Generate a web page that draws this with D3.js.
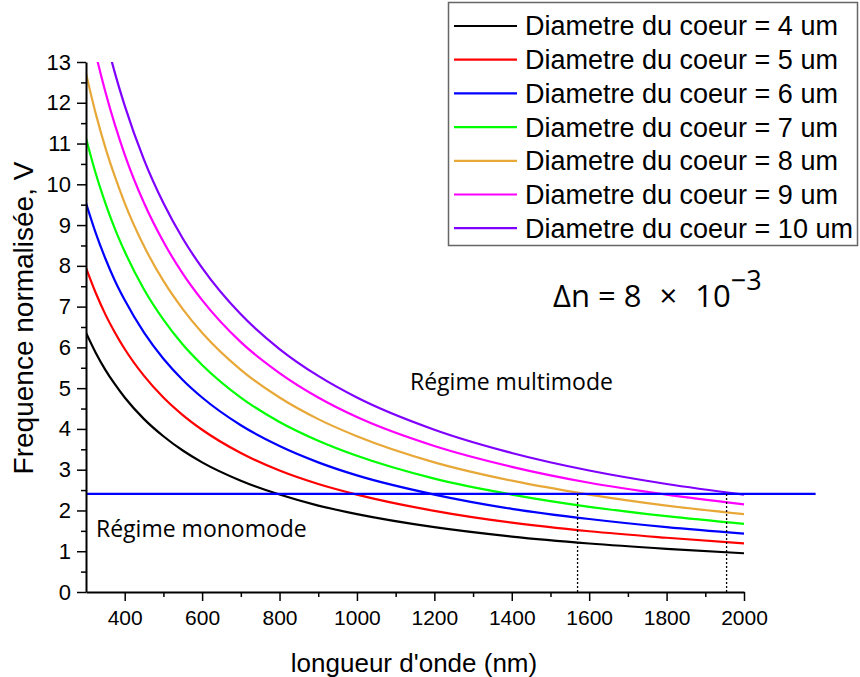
<!DOCTYPE html>
<html>
<head>
<meta charset="utf-8">
<script src="https://cdn.jsdelivr.net/npm/d3@7"></script>
<style>
  body { margin: 0; background: #fff; }
  svg { display: block; }
</style>
</head>
<body>
<svg id="chart"></svg>
<script>
// wavelength samples (nm)
const wavelengths = [300, 325, 350, 375, 400, 450, 500, 550, 600, 700, 800, 900, 1000, 1200, 1400, 1600, 1800, 2000];

// V (core diameter in um)
const diameters = [4, 5, 6, 7, 8, 9, 10];
const v4 = [6.36, 5.87, 5.45, 5.09, 4.77, 4.24, 3.82, 3.47, 3.18, 2.73, 2.39, 2.12, 1.91, 1.59, 1.36, 1.19, 1.06, 0.95];
const v5 = [7.95, 7.34, 6.81, 6.36, 5.96, 5.30, 4.77, 4.34, 3.98, 3.41, 2.98, 2.65, 2.39, 1.99, 1.70, 1.49, 1.33, 1.19];
const v6 = [9.54, 8.81, 8.18, 7.63, 7.16, 6.36, 5.72, 5.20, 4.77, 4.09, 3.58, 3.18, 2.86, 2.39, 2.04, 1.79, 1.59, 1.43];
const v7 = [11.13, 10.27, 9.54, 8.90, 8.35, 7.42, 6.68, 6.07, 5.57, 4.77, 4.17, 3.71, 3.34, 2.78, 2.39, 2.09, 1.86, 1.67];
const v8 = [12.72, 11.74, 10.90, 10.18, 9.54, 8.48, 7.63, 6.94, 6.36, 5.45, 4.77, 4.24, 3.82, 3.18, 2.73, 2.39, 2.12, 1.91];
const v9 = [14.31, 13.21, 12.27, 11.45, 10.73, 9.54, 8.59, 7.81, 7.16, 6.13, 5.37, 4.77, 4.29, 3.58, 3.07, 2.68, 2.39, 2.15];
const v10 = [15.90, 14.68, 13.63, 12.72, 11.93, 10.60, 9.54, 8.67, 7.95, 6.81, 5.96, 5.30, 4.77, 3.98, 3.41, 2.98, 2.65, 2.39];
const seriesValues = [v4, v5, v6, v7, v8, v9, v10];
const colors = ["#000000", "#ff0000", "#0000ff", "#00ff00", "#e8a838", "#ff00ff", "#8000ff"];

// single-mode cutoff V = 2.405, drawn from 300 to ~2185 nm
const cutoffV = 2.405;
const cutoffRange = [300, 2185];
// dotted markers (nm)
const markers = [1570, 1955];

const yTicks = d3.range(0, 14, 1);
const xTicks = [400, 600, 800, 1000, 1200, 1400, 1600, 1800, 2000];

const width = 860;
const height = 677;
const font = "'Liberation Sans', Arial, sans-serif";
const textFont = "'Open Sans', 'Noto Sans', sans-serif";

const svg = d3.select("#chart").attr("width", width).attr("height", height);
svg.append("rect").attr("width", width).attr("height", height).attr("fill", "#fff");

const xScale = d3.scaleLinear().domain([300, 2000]).range([86, 744]);
const yScale = d3.scaleLinear().domain([0, 13]).range([592, 62]);

// clip curves at V = 13
svg.append("clipPath").attr("id", "plot-clip")
  .append("rect")
  .attr("x", xScale(300))
  .attr("y", yScale(13))
  .attr("width", width - xScale(300))
  .attr("height", yScale(0) - yScale(13));

const line = d3.line()
  .x((d) => xScale(d[0]))
  .y((d) => yScale(d[1]))
  .curve(d3.curveMonotoneX);

const curves = svg.append("g").attr("clip-path", "url(#plot-clip)");
seriesValues.forEach(function (vals, i) {
  curves.append("path")
    .datum(wavelengths.map((w, j) => [w, vals[j]]))
    .attr("d", line)
    .attr("fill", "none")
    .attr("stroke", colors[i])
    .attr("stroke-width", 2.2);
});

// cutoff line
svg.append("path")
  .datum(cutoffRange.map((w) => [w, cutoffV]))
  .attr("d", d3.line().x((d) => xScale(d[0])).y((d) => yScale(d[1])))
  .attr("stroke", "#0000ff")
  .attr("stroke-width", 2.2);

// dotted vertical markers
svg.selectAll(".marker")
  .data(markers)
  .enter()
  .append("line")
  .attr("class", "marker")
  .attr("x1", (d) => xScale(d))
  .attr("x2", (d) => xScale(d))
  .attr("y1", yScale(0))
  .attr("y2", yScale(cutoffV))
  .attr("stroke", "#000")
  .attr("stroke-width", 1.3)
  .attr("stroke-dasharray", "2,2");

// y axis: minor then major
svg.append("g")
  .attr("transform", `translate(${xScale(300)},0)`)
  .call(d3.axisLeft(yScale).tickValues(d3.range(0.5, 13, 1)).tickSize(5).tickSizeOuter(0).tickFormat(""))
  .call((g) => g.select(".domain").remove())
  .selectAll("line").attr("stroke-width", 1.5);

const yAxis = svg.append("g")
  .attr("transform", `translate(${xScale(300)},0)`)
  .call(d3.axisLeft(yScale).tickValues(yTicks).tickSize(9).tickSizeOuter(0).tickPadding(6));
yAxis.select(".domain").attr("stroke-width", 2);
yAxis.selectAll("line").attr("stroke-width", 1.5);
yAxis.selectAll("text").style("font-family", font).style("font-size", "22px").attr("fill", "#000");

// x axis: minor then major
svg.append("g")
  .attr("transform", `translate(0,${yScale(0)})`)
  .call(d3.axisBottom(xScale).tickValues(d3.range(500, 2000, 200)).tickSize(5).tickSizeOuter(0).tickFormat(""))
  .call((g) => g.select(".domain").remove())
  .selectAll("line").attr("stroke-width", 1.5);

const xAxis = svg.append("g")
  .attr("transform", `translate(0,${yScale(0)})`)
  .call(d3.axisBottom(xScale).tickValues(xTicks).tickSize(9).tickSizeOuter(0).tickPadding(9).tickFormat(d3.format("d")));
xAxis.select(".domain").attr("stroke-width", 2);
xAxis.selectAll("line").attr("stroke-width", 1.5);
xAxis.selectAll("text").style("font-family", font).style("font-size", "21px").attr("fill", "#000");

// axis titles
svg.append("text")
  .attr("x", 414)
  .attr("y", 672)
  .attr("text-anchor", "middle")
  .style("font-family", font)
  .style("font-size", "26px")
  .text("longueur d'onde (nm)");

svg.append("text")
  .attr("transform", "translate(33,318) rotate(-90)")
  .attr("text-anchor", "middle")
  .style("font-family", font)
  .style("font-size", "28px")
  .text("Frequence normalisée, V");

// annotations
svg.append("text")
  .attr("x", 410)
  .attr("y", 390)
  .style("font-family", textFont)
  .style("font-size", "23px")
  .text("Régime multimode");

svg.append("text")
  .attr("x", 96)
  .attr("y", 537)
  .style("font-family", textFont)
  .style("font-size", "23px")
  .text("Régime monomode");

const dn = svg.append("text")
  .attr("x", 553)
  .attr("y", 307)
  .style("font-family", textFont)
  .style("font-size", "31px");
dn.append("tspan").text("Δn = 8");
dn.append("tspan").attr("dx", 18).text("×");
dn.append("tspan").attr("dx", 18).text("10");
dn.append("tspan").attr("dy", -17).style("font-size", "27px").text("−3");

// legend
const legend = svg.append("g").attr("class", "legend");
legend.append("rect")
  .attr("x", 448.5)
  .attr("y", 2.5)
  .attr("width", 409)
  .attr("height", 243)
  .attr("fill", "#fff")
  .attr("stroke", "#666")
  .attr("stroke-width", 1.5);

const rows = legend.selectAll(".row")
  .data(diameters)
  .enter()
  .append("g")
  .attr("class", "row")
  .attr("transform", (d, i) => `translate(0,${26 + i * 33.7})`);

rows.append("line")
  .attr("x1", 454)
  .attr("x2", 517)
  .attr("stroke", (d, i) => colors[i])
  .attr("stroke-width", 2.2);

rows.append("text")
  .attr("x", 525)
  .attr("dy", "0.35em")
  .style("font-family", font)
  .style("font-size", "27px")
  .text((d) => `Diametre du coeur = ${d} um`);
</script>
</body>
</html>
